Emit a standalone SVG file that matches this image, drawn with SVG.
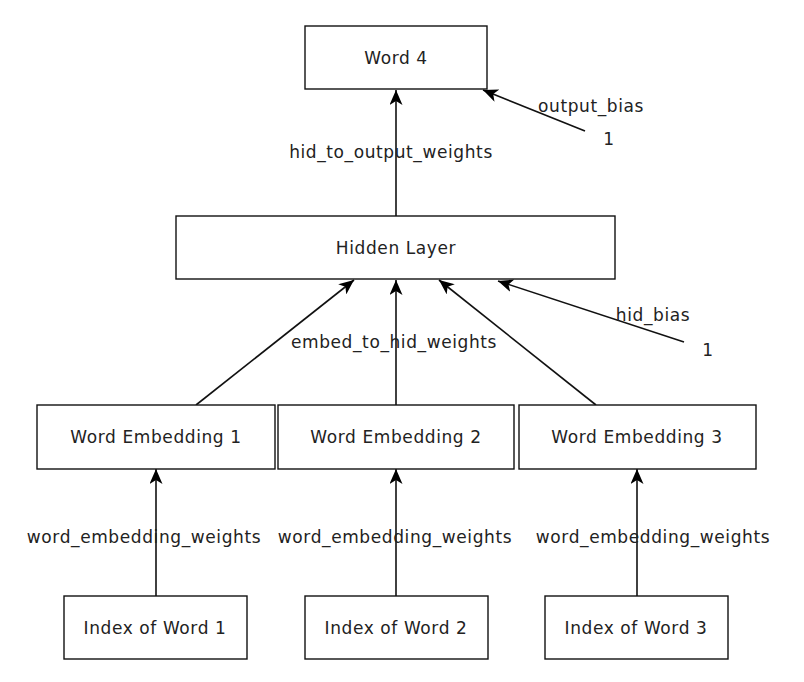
<svg xmlns="http://www.w3.org/2000/svg" width="804" height="682" viewBox="0 0 804 682">
<style>
.box{fill:#fff;stroke:#111;stroke-width:1.4}
.t{font-family:"DejaVu Sans",sans-serif;font-size:17px;fill:#222;text-anchor:middle;letter-spacing:0.6px}
.c{stroke:#111;stroke-width:1.6;fill:none;marker-end:url(#ah)}
</style>
<defs>
<marker id="ah" viewBox="0 0 15 13" refX="15" refY="6.5" markerWidth="15" markerHeight="13" markerUnits="userSpaceOnUse" orient="auto">
<path d="M0,0 L15,6.5 L0,13 L4,6.5 Z" fill="#000"/>
</marker>
</defs>
<rect width="804" height="682" fill="#fff"/>
<g id="connectors">
<line class="c" x1="396" y1="216" x2="396" y2="90"/>
<line class="c" x1="585" y1="131" x2="483" y2="90"/>
<line class="c" x1="196" y1="405" x2="354" y2="280"/>
<line class="c" x1="396" y1="405" x2="396" y2="280"/>
<line class="c" x1="596" y1="405" x2="439" y2="280"/>
<line class="c" x1="684" y1="342" x2="498" y2="281"/>
<line class="c" x1="156" y1="596" x2="156" y2="469"/>
<line class="c" x1="396" y1="596" x2="396" y2="469"/>
<line class="c" x1="637" y1="596" x2="637" y2="469"/>
<text class="t" x="391" y="158">hid_to_output_weights</text>
<text class="t" x="591" y="112">output_bias</text>
<text class="t" x="609" y="145">1</text>
<text class="t" x="394" y="348">embed_to_hid_weights</text>
<text class="t" x="653" y="321">hid_bias</text>
<text class="t" x="708" y="356">1</text>
<text class="t" x="144" y="543">word_embedding_weights</text>
<text class="t" x="395" y="543">word_embedding_weights</text>
<text class="t" x="653" y="543">word_embedding_weights</text>
</g>
<g id="word4"><rect class="box" x="305" y="26" width="182" height="63"/><text class="t" x="396" y="64">Word 4</text></g>
<g id="hidden"><rect class="box" x="176" y="216" width="439" height="63"/><text class="t" x="396" y="254">Hidden Layer</text></g>
<g id="we1"><rect class="box" x="37" y="405" width="238" height="64"/><text class="t" x="156" y="443">Word Embedding 1</text></g>
<g id="we2"><rect class="box" x="278" y="405" width="236" height="64"/><text class="t" x="396" y="443">Word Embedding 2</text></g>
<g id="we3"><rect class="box" x="519" y="405" width="237" height="64"/><text class="t" x="637" y="443">Word Embedding 3</text></g>
<g id="idx1"><rect class="box" x="64" y="596" width="183" height="63"/><text class="t" x="155" y="634">Index of Word 1</text></g>
<g id="idx2"><rect class="box" x="305" y="596" width="183" height="63"/><text class="t" x="396" y="634">Index of Word 2</text></g>
<g id="idx3"><rect class="box" x="545" y="596" width="183" height="63"/><text class="t" x="636" y="634">Index of Word 3</text></g>
</svg>
